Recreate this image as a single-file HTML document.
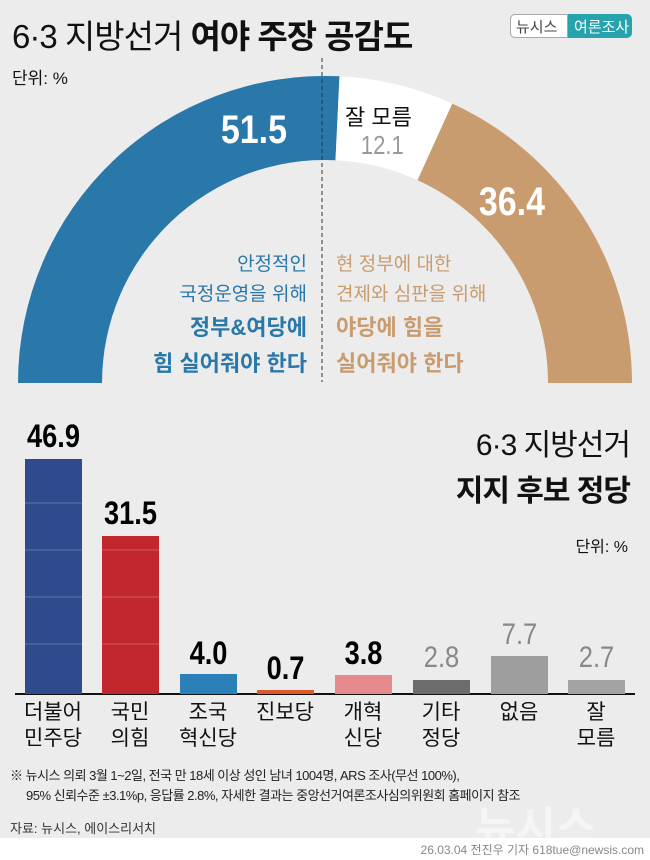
<!DOCTYPE html>
<html><head><meta charset="utf-8"><style>
body{margin:0;width:650px;height:860px;background:#ececec;position:relative;overflow:hidden;font-family:"Liberation Sans","Noto Sans CJK KR",sans-serif;}
.a{position:absolute;white-space:nowrap;}
.n{font-family:"Liberation Sans Narrow","Liberation Sans",sans-serif;}
</style></head><body>
<div class="a" style="left:12px;top:10px;font-size:33px;color:#111;letter-spacing:-1px;">6·3 지방선거 <b>여야 주장 공감도</b></div>
<div class="a" style="left:510px;top:14px;width:122px;height:24px;border-radius:5px;background:#27a3ad;overflow:hidden;">
<div style="position:absolute;left:0;top:0;width:58px;height:24px;background:#fff;border:1px solid #aaa;border-radius:5px 0 0 5px;box-sizing:border-box;"></div>
<div class="a" style="left:6px;top:2px;font-size:15px;color:#444;">뉴시스</div>
<div class="a" style="left:64px;top:2px;font-size:15px;color:#fff;">여론조사</div></div>
<div class="a" style="left:12px;top:64px;font-size:17px;color:#111;">단위: %</div>
<svg class="a" style="left:0;top:0" width="650" height="860">
<path d="M18 383 A307 307 0 0 1 339.5 76.3 L335.5 160.2 A223 223 0 0 0 102 383 Z" fill="#2978a9"/>
<path d="M339.5 76.3 A307 307 0 0 1 452.3 103.6 L417.5 180.1 A223 223 0 0 0 335.5 160.2 Z" fill="#fff"/>
<path d="M452.3 103.6 A307 307 0 0 1 632 383 L548 383 A223 223 0 0 0 417.5 180.1 Z" fill="#c99c70"/>
<line x1="322" y1="58" x2="322" y2="382" stroke="#333" stroke-width="1" stroke-dasharray="4,3"/>
<line x1="15" y1="694" x2="635" y2="694" stroke="#111" stroke-width="2"/>
<rect x="25" y="459" width="57" height="235" fill="#2f4b8e"/>
<g stroke="#5d74b0" stroke-width="1"><line x1="25" y1="644" x2="82" y2="644"/><line x1="25" y1="597" x2="82" y2="597"/><line x1="25" y1="550" x2="82" y2="550"/><line x1="25" y1="503" x2="82" y2="503"/></g>
<rect x="102" y="536" width="57" height="158" fill="#c1272d"/>
<g stroke="#d6585c" stroke-width="1"><line x1="102" y1="644" x2="159" y2="644"/><line x1="102" y1="597" x2="159" y2="597"/><line x1="102" y1="550" x2="159" y2="550"/></g>
<rect x="180" y="674" width="57" height="20" fill="#2b80b8"/>
<rect x="257" y="690" width="57" height="4" fill="#e0572a"/>
<rect x="335" y="675" width="57" height="19" fill="#e58a8c"/>
<rect x="413" y="680" width="57" height="14" fill="#6d6d6d"/>
<rect x="491" y="656" width="57" height="38" fill="#9e9e9e"/>
<rect x="568" y="680" width="57" height="14" fill="#a3a3a3"/>
</svg>
<div class="a n" style="left:215px;top:108px;font-size:40px;font-weight:bold;color:#fff;transform:scaleX(.85);">51.5</div>
<div class="a" style="left:345px;top:100px;font-size:22px;color:#111;">잘 모름</div>
<div class="a n" style="left:357px;top:130px;font-size:26px;color:#999;transform:scaleX(.85);">12.1</div>
<div class="a n" style="left:473px;top:180px;font-size:40px;font-weight:bold;color:#fff;transform:scaleX(.85);">36.4</div>
<div class="a" style="right:343px;top:250px;font-size:19px;color:#2978a9;text-align:right;line-height:30px;">안정적인<br>국정운영을 위해</div>
<div class="a" style="right:343px;top:310px;font-size:22px;font-weight:bold;color:#2978a9;text-align:right;line-height:36px;">정부&amp;여당에<br>힘 실어줘야 한다</div>
<div class="a" style="left:336px;top:250px;font-size:19px;color:#c99c70;line-height:30px;">현 정부에 대한<br>견제와 심판을 위해</div>
<div class="a" style="left:336px;top:310px;font-size:22px;font-weight:bold;color:#c99c70;line-height:36px;">야당에 힘을<br>실어줘야 한다</div>
<div class="a" style="right:20px;top:423px;font-size:30px;color:#111;text-align:right;line-height:46px;letter-spacing:-1px;">6·3 지방선거<br><b>지지 후보 정당</b></div>
<div class="a" style="right:22px;top:533px;font-size:16px;color:#111;">단위: %</div>
<div class="a n" style="left:15px;top:418px;width:77px;text-align:center;font-size:32px;font-weight:bold;transform:scaleX(.85);">46.9</div>
<div class="a n" style="left:92px;top:495px;width:77px;text-align:center;font-size:32px;font-weight:bold;transform:scaleX(.85);">31.5</div>
<div class="a n" style="left:170px;top:635px;width:77px;text-align:center;font-size:32px;font-weight:bold;transform:scaleX(.85);">4.0</div>
<div class="a n" style="left:247px;top:650px;width:77px;text-align:center;font-size:32px;font-weight:bold;transform:scaleX(.85);">0.7</div>
<div class="a n" style="left:325px;top:635px;width:77px;text-align:center;font-size:32px;font-weight:bold;transform:scaleX(.85);">3.8</div>
<div class="a n" style="left:403px;top:641px;width:77px;text-align:center;font-size:30px;color:#888;transform:scaleX(.85);">2.8</div>
<div class="a n" style="left:481px;top:618px;width:77px;text-align:center;font-size:30px;color:#888;transform:scaleX(.85);">7.7</div>
<div class="a n" style="left:558px;top:641px;width:77px;text-align:center;font-size:30px;color:#888;transform:scaleX(.85);">2.7</div>
<div class="a" style="left:13px;top:700px;width:80px;text-align:center;font-size:21px;line-height:26px;color:#111;">더불어<br>민주당</div>
<div class="a" style="left:90px;top:700px;width:80px;text-align:center;font-size:21px;line-height:26px;color:#111;">국민<br>의힘</div>
<div class="a" style="left:168px;top:700px;width:80px;text-align:center;font-size:21px;line-height:26px;color:#111;">조국<br>혁신당</div>
<div class="a" style="left:245px;top:700px;width:80px;text-align:center;font-size:21px;line-height:26px;color:#111;">진보당</div>
<div class="a" style="left:323px;top:700px;width:80px;text-align:center;font-size:21px;line-height:26px;color:#111;">개혁<br>신당</div>
<div class="a" style="left:401px;top:700px;width:80px;text-align:center;font-size:21px;line-height:26px;color:#111;">기타<br>정당</div>
<div class="a" style="left:479px;top:700px;width:80px;text-align:center;font-size:21px;line-height:26px;color:#111;">없음</div>
<div class="a" style="left:556px;top:700px;width:80px;text-align:center;font-size:21px;line-height:26px;color:#111;">잘<br>모름</div>
<div class="a" style="left:10px;top:765px;font-size:13px;color:#222;letter-spacing:-.5px;">※ 뉴시스 의뢰 3월 1~2일, 전국 만 18세 이상 성인 남녀 1004명, ARS 조사(무선 100%),</div>
<div class="a" style="left:26px;top:785px;font-size:13px;color:#222;letter-spacing:-.5px;">95% 신뢰수준 ±3.1%p, 응답률 2.8%, 자세한 결과는 중앙선거여론조사심의위원회 홈페이지 참조</div>
<div class="a" style="left:475px;top:792px;font-size:44px;font-weight:bold;color:#f8f8f8;opacity:.8;">뉴시스</div>
<div class="a" style="left:10px;top:818px;font-size:13px;color:#333;">자료: 뉴시스, 에이스리서치</div>
<div class="a" style="left:0;top:838px;width:650px;height:22px;background:#fff;"></div>
<div class="a" style="right:6px;top:841px;font-size:12px;color:#888;">26.03.04 전진우 기자 618tue@newsis.com</div>
</body></html>
